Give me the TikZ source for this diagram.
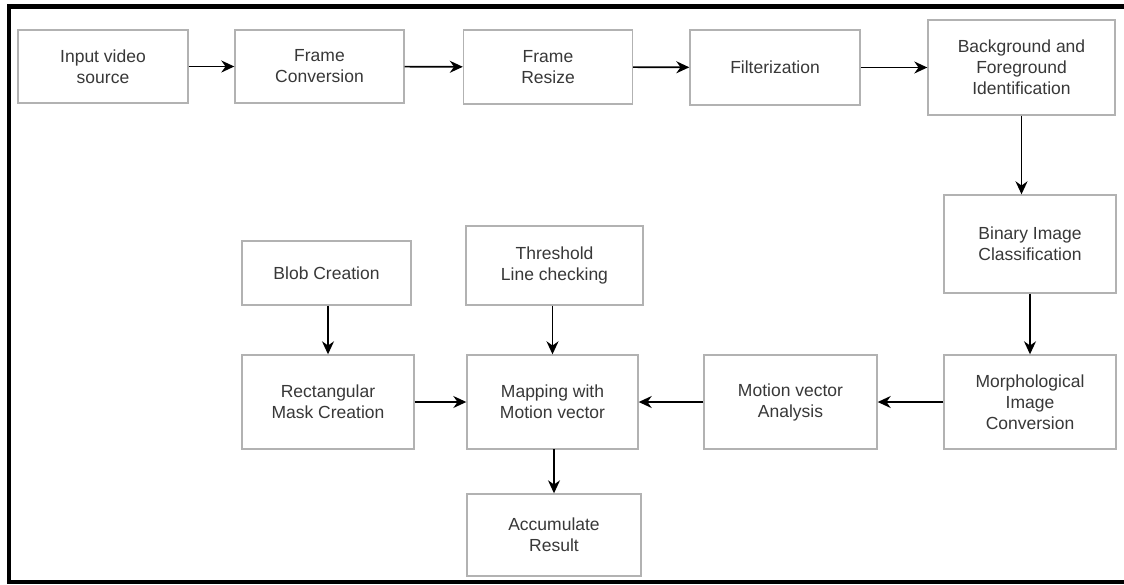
\documentclass[tikz,border=0pt]{standalone}
\usepackage{fontspec}
\setmainfont{Liberation Sans}
\usetikzlibrary{arrows.meta}
\definecolor{boxgray}{rgb}{0.70,0.70,0.70}
\definecolor{txtgray}{rgb}{0.22,0.22,0.22}

\begin{document}
\begin{tikzpicture}[x=1pt,y=-1pt,
  stagebox/.style={draw=boxgray,line width=1.4pt,fill=white,align=center,
    text=txtgray,font=\fontsize{17.5}{21}\selectfont,inner sep=0pt},
  flow/.style={-{Stealth[length=13pt,width=12pt]},line width=1.6pt,black}]
  \useasboundingbox (0,0) rectangle (1124,584);
  \fill[white] (0,0) rectangle (1124,584);
  % outer frame, right side is cut off
  \draw[line width=4.5pt,black] (1124,6.5) -- (9,6.5) -- (9,582) -- (1124,582);

  % top row
  \node[stagebox,minimum width=170pt,minimum height=73pt] (in) at (103,66.5) {Input video\\source};
  \node[stagebox,minimum width=169pt,minimum height=73pt] (conv) at (319.5,66.5) {Frame\\Conversion};
  \node[stagebox,minimum width=169pt,minimum height=74pt] (resize) at (548,67) {Frame\\Resize};
  \node[stagebox,minimum width=170pt,minimum height=75pt] (filt) at (775,67.5) {Filterization};
  \node[stagebox,minimum width=187pt,minimum height=95pt] (bg) at (1021.5,67.5) {Background and\\Foreground\\Identification};

  % right column
  \node[stagebox,minimum width=172pt,minimum height=98pt] (bin) at (1030,244) {Binary Image\\Classification};
  \node[stagebox,minimum width=172pt,minimum height=94pt] (morph) at (1030,402) {Morphological\\Image\\Conversion};

  % bottom row
  \node[stagebox,minimum width=173pt,minimum height=94pt] (mva) at (790.5,402) {Motion vector\\Analysis};
  \node[stagebox,minimum width=171pt,minimum height=94pt] (map) at (552.5,402) {Mapping with\\Motion vector};
  \node[stagebox,minimum width=172pt,minimum height=94pt] (rect) at (328,402) {Rectangular\\Mask Creation};
  \node[stagebox,minimum width=169pt,minimum height=64pt] (blob) at (326.5,273) {Blob Creation};
  \node[stagebox,minimum width=177pt,minimum height=79pt] (thr) at (554.5,265.5) {Threshold\\Line checking};
  \node[stagebox,minimum width=174pt,minimum height=82pt] (acc) at (554,535) {Accumulate\\Result};

  \draw[flow] (in) -- (conv);
  \draw[flow] (conv) -- (resize);
  \draw[flow] (resize) -- (filt);
  \draw[flow] (filt) -- (filt -| bg.west);
  \draw[flow] (bg.south) -- (bg.south |- bin.north);
  \draw[flow] (bin) -- (morph);
  \draw[flow] (morph) -- (mva);
  \draw[flow] (mva) -- (map);
  \draw[flow] (rect) -- (map);
  \draw[flow] (blob.south -| rect.north) -- (rect.north);
  \draw[flow] (thr.south -| map.north) -- (map.north);
  \draw[flow] (map.south) -- (map.south -| acc.north) -- (acc.north);
\end{tikzpicture}
\end{document}
